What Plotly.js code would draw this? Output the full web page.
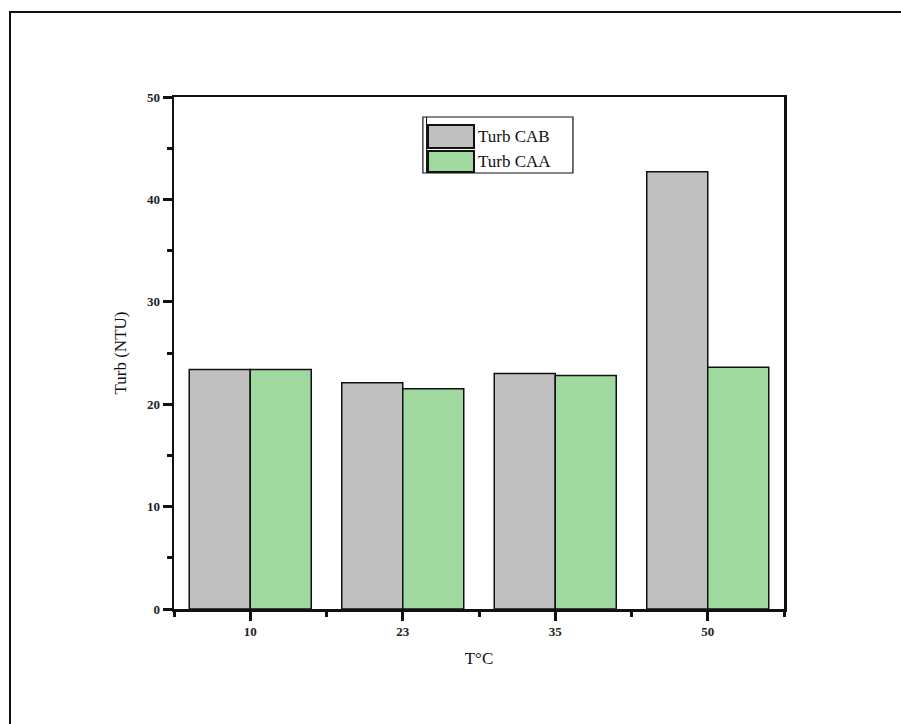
<!DOCTYPE html>
<html>
<head>
<meta charset="utf-8">
<script src="https://cdn.plot.ly/plotly-3.0.1.min.js"></script>
<style>
  html, body { margin: 0; padding: 0; background: #fff; }
  #frame { position: absolute; left: 9px; top: 11px; width: 900px; height: 720px;
           border-left: 2px solid #111; border-top: 2px solid #111; }
  #chart { position: absolute; left: 0; top: 0; width: 901px; height: 724px; }
</style>
</head>
<body>
<div id="frame"></div>
<div id="chart"></div>
<script>
const categories = ["10", "23", "35", "50"];
const turbCAB = [23.4, 22.1, 23.0, 42.7];
const turbCAA = [23.4, 21.5, 22.8, 23.6];
const seriesNames = ["Turb CAB", "Turb CAA"];
const seriesColors = ["#c0c0c0", "#9fd99f"];
const yTicks = [0, 10, 20, 30, 40, 50];

const idx = categories.map((c, i) => i);
const serif = "Liberation Serif, Times New Roman, serif";

const traces = [turbCAB, turbCAA].map((vals, k) => ({
  type: "bar",
  x: idx,
  y: vals,
  name: seriesNames[k],
  marker: { color: seriesColors[k], line: { color: "#111", width: 1.5 } },
  showlegend: false,
  hoverinfo: "x+y"
}));

// custom legend (paper coords)
const L = { x0: 0.408, x1: 0.654, y0: 0.8516, y1: 0.9609 };
const sw = [
  { x0: 0.4164, x1: 0.4918, y0: 0.9004, y1: 0.9453 },
  { x0: 0.4164, x1: 0.4918, y0: 0.8535, y1: 0.8945 }
];
const shapes = [
  { type: "rect", xref: "paper", yref: "paper", x0: L.x0, x1: L.x1, y0: L.y0, y1: L.y1,
    line: { color: "#111", width: 1.2 }, fillcolor: "#fff", layer: "above" },
  { type: "line", xref: "paper", yref: "paper", x0: L.x0 + 0.006, x1: L.x0 + 0.006, y0: L.y0, y1: L.y1,
    line: { color: "#111", width: 1 }, layer: "above" }
].concat(sw.map((s, k) => ({
  type: "rect", xref: "paper", yref: "paper", x0: s.x0, x1: s.x1, y0: s.y0, y1: s.y1,
  line: { color: "#111", width: 2 }, fillcolor: seriesColors[k], layer: "above"
})));
const annotations = sw.map((s, k) => ({
  xref: "paper", yref: "paper", x: s.x1 + 0.004, y: (s.y0 + s.y1) / 2,
  xanchor: "left", yanchor: "middle", showarrow: false,
  text: seriesNames[k], font: { family: serif, size: 17, color: "#111" }
}));

const tickFont = { family: serif, size: 13, color: "#222", weight: "bold" };

const layout = {
  width: 901, height: 724,
  margin: { l: 174, r: 117, t: 97, b: 115 },
  paper_bgcolor: "rgba(0,0,0,0)",
  plot_bgcolor: "#fff",
  barmode: "group",
  bargap: 0.2,
  bargroupgap: 0,
  xaxis: {
    type: "linear",
    range: [-0.5, 3.5],
    tickvals: idx,
    ticktext: categories,
    ticks: "outside", ticklen: 9, tickwidth: 3, tickcolor: "#111",
    minor: { tickvals: [-0.5, 0.5, 1.5, 2.5, 3.5], ticks: "outside", ticklen: 5, tickwidth: 3, tickcolor: "#111" },
    showline: true, linecolor: "#111", linewidth: 2.5, mirror: true,
    showgrid: false, zeroline: false,
    tickfont: tickFont,
    title: { text: "T°C", font: { family: serif, size: 17, color: "#111" }, standoff: 14 }
  },
  yaxis: {
    range: [0, 50],
    tickvals: yTicks,
    ticks: "outside", ticklen: 9, tickwidth: 3, tickcolor: "#111",
    minor: { dtick: 5, tick0: 5, ticks: "outside", ticklen: 5, tickwidth: 3, tickcolor: "#111" },
    showline: true, linecolor: "#111", linewidth: 2.5, mirror: true,
    showgrid: false, zeroline: false,
    tickfont: tickFont,
    title: { text: "Turb (NTU)", font: { family: serif, size: 17, color: "#111" }, standoff: 16 }
  },
  shapes: shapes,
  annotations: annotations
};

Plotly.newPlot("chart", traces, layout, { displayModeBar: false, staticPlot: true });
</script>
</body>
</html>
